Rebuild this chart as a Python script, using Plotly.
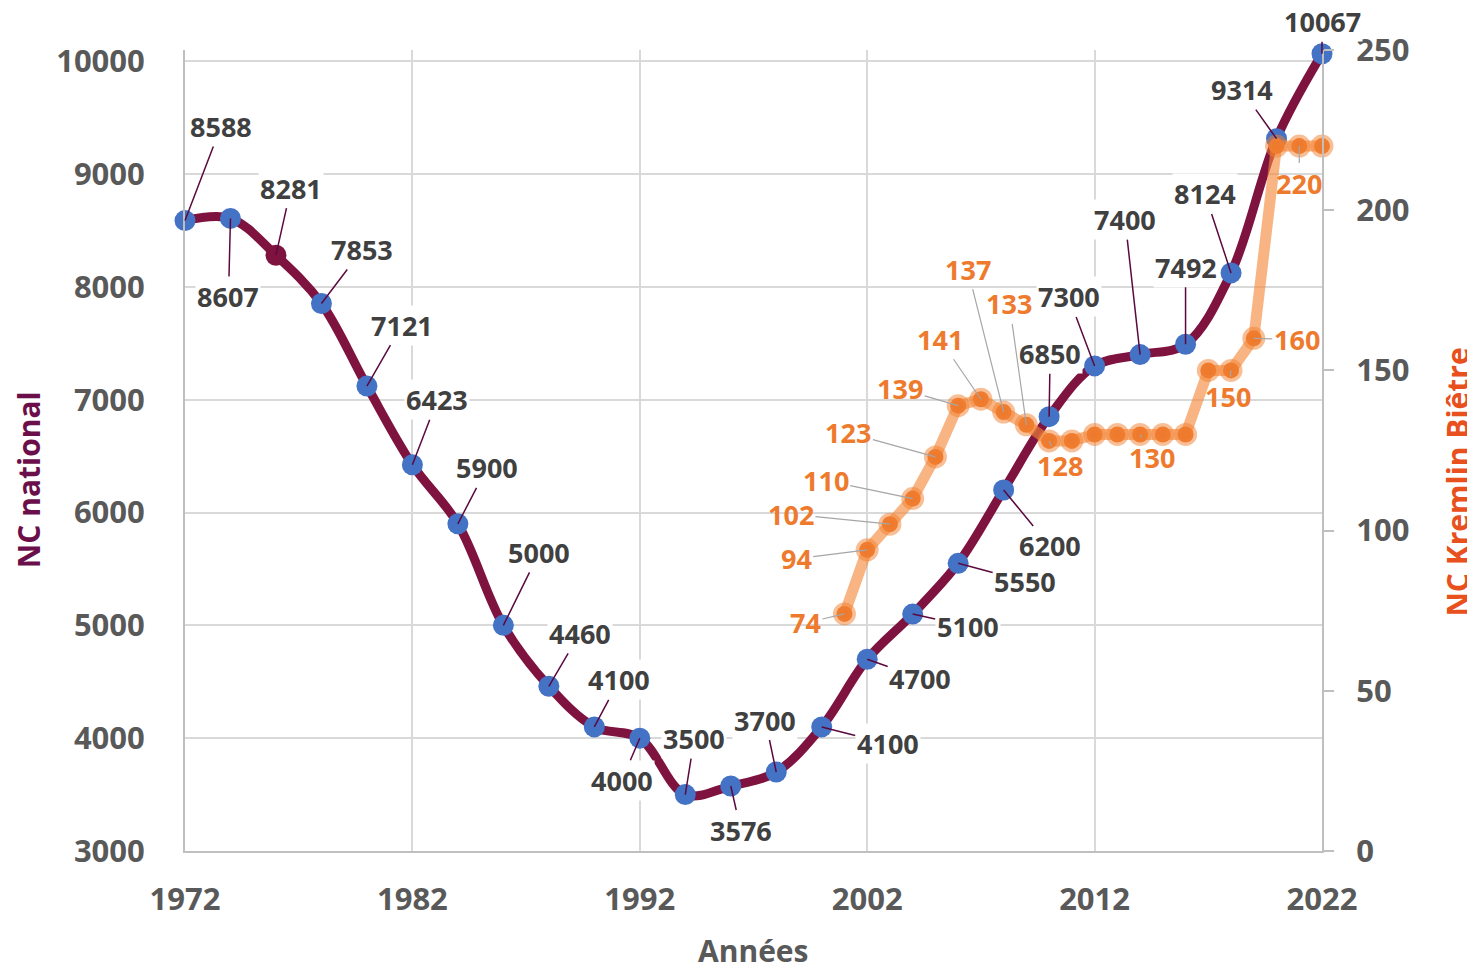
import plotly.graph_objects as go

# NC national, every 2 years
years_nat = list(range(1972, 2023, 2))
nc_national = [8588, 8607, 8281, 7853, 7121, 6423, 5900, 5000, 4460, 4100, 4000,
               3500, 3576, 3700, 4100, 4700, 5100, 5550, 6200, 6850, 7300, 7400,
               7492, 8124, 9314, 10067]

# NC Kremlin Bicetre, yearly
years_kb = list(range(2001, 2023))
nc_kb = [74, 94, 102, 110, 123, 139, 141, 137, 133, 128, 128, 130, 130, 130, 130,
         130, 150, 150, 160, 220, 220, 220]

x_ticks = [1972, 1982, 1992, 2002, 2012, 2022]

# label offsets in pixels (ax, ay), None = no label
nat_off = [(36, -94), (-2, 78), (15, -67), (41, -54), (35, -61), (25, -65), (29, -56),
           (36, -73), (31, -53), (25, -47), (-18, 42), (9, -56), (10, 44), (-11, -52),
           (66, 17), (53, 19), (55, 12), (67, 18), (46, 56), (1, -63), (-26, -69),
           (-15, -135), (0, -77), (-26, -79), (-35, -49), (0, -32)]
kb_off = [(-39, 9), (-71, 9), (-99, -10), (-87, -18), (-87, -24), (-58, -17), (-41, -60),
          (-36, -143), (-17, -121), (11, 25), None, None, None, (12, 23), None, None,
          None, (-3, 26), (43, 1), None, (0, 37), None]

BLUE = "#4472C4"
MAROON = "#7F1340"
ORANGE = "#EE7A2E"
FONT = "Open Sans"

fig = go.Figure()

mcolors = [BLUE] * len(years_nat)
mcolors[2] = MAROON

fig.add_trace(go.Scatter(
    x=years_nat, y=nc_national, mode="lines+markers", cliponaxis=False,
    line=dict(color=MAROON, width=9, shape="spline", smoothing=1.0),
    marker=dict(size=21, color=mcolors), yaxis="y", showlegend=False))

fig.add_trace(go.Scatter(
    x=years_kb, y=nc_kb, mode="lines+markers", cliponaxis=False,
    line=dict(color="rgba(243,135,55,0.62)", width=11),
    marker=dict(size=16, color=ORANGE, line=dict(width=7, color="rgba(242,128,48,0.5)")),
    yaxis="y2", showlegend=False))

annotations = []
for yr, v, off in zip(years_nat, nc_national, nat_off):
    if off is None:
        continue
    annotations.append(dict(
        x=yr, y=v, xref="x", yref="y", text=str(v), ax=off[0], ay=off[1],
        showarrow=True, arrowhead=0, arrowwidth=1.5, arrowcolor="#5B0A3F",
        standoff=0, bgcolor="white",
        font=dict(family=FONT, size=27, color="#404040", weight="bold")))
for yr, v, off in zip(years_kb, nc_kb, kb_off):
    if off is None:
        continue
    annotations.append(dict(
        x=yr, y=v, xref="x", yref="y2", text=str(v), ax=off[0], ay=off[1],
        showarrow=True, arrowhead=0, arrowwidth=1.2, arrowcolor="#A6A6A6",
        standoff=0, bgcolor="rgba(255,255,255,0)",
        font=dict(family=FONT, size=27, color=ORANGE, weight="bold")))

# axis titles
annotations.append(dict(
    text="Années", xref="paper", yref="paper", x=0.5, y=0, yshift=-99,
    xanchor="center", yanchor="middle", showarrow=False,
    font=dict(family=FONT, size=30, color="#595959", weight="bold")))
annotations.append(dict(
    text="NC national", xref="paper", yref="paper", x=0, y=0.463, xshift=-157,
    xanchor="center", yanchor="middle", showarrow=False, textangle=-90,
    font=dict(family=FONT, size=30, color="#6B0F4A", weight="bold")))
annotations.append(dict(
    text="NC Kremlin Biêtre", xref="paper", yref="paper", x=1, y=0.46, xshift=136,
    xanchor="center", yanchor="middle", showarrow=False, textangle=-90,
    font=dict(family=FONT, size=30, color="#E8501E", weight="bold")))

# page body has an 8px margin, so the figure is a bit smaller than the window
fig.update_layout(
    width=1467, height=961,
    margin=dict(l=177, r=153, t=42, b=118),
    paper_bgcolor="white", plot_bgcolor="white",
    font=dict(family=FONT),
    annotations=annotations,
    xaxis=dict(
        range=[1972, 2022], tickvals=x_ticks, showgrid=True, gridcolor="#D9D9D9",
        gridwidth=2, zeroline=False, showline=True, linecolor="#BFBFBF", linewidth=2,
        tickfont=dict(family=FONT, size=31, color="#595959", weight="bold"),
        ticklabelstandoff=20, automargin=False),
    yaxis=dict(
        range=[3000, 10100], tickvals=list(range(3000, 10001, 1000)), tickformat="d",
        showgrid=True, gridcolor="#D9D9D9", gridwidth=2, zeroline=False,
        showline=True, linecolor="#BFBFBF", linewidth=2,
        tickfont=dict(family=FONT, size=31, color="#595959", weight="bold"),
        ticklabelstandoff=32, automargin=False),
    yaxis2=dict(
        range=[0, 250], tickvals=list(range(0, 251, 50)), overlaying="y", side="right",
        showgrid=False, zeroline=False, showline=True, linecolor="#BFBFBF", linewidth=2,
        ticks="outside", ticklen=10, tickcolor="#BFBFBF", tickwidth=2,
        tickfont=dict(family=FONT, size=31, color="#595959", weight="bold"),
        ticklabelstandoff=16, automargin=False),
)

fig.write_html("out.html")
